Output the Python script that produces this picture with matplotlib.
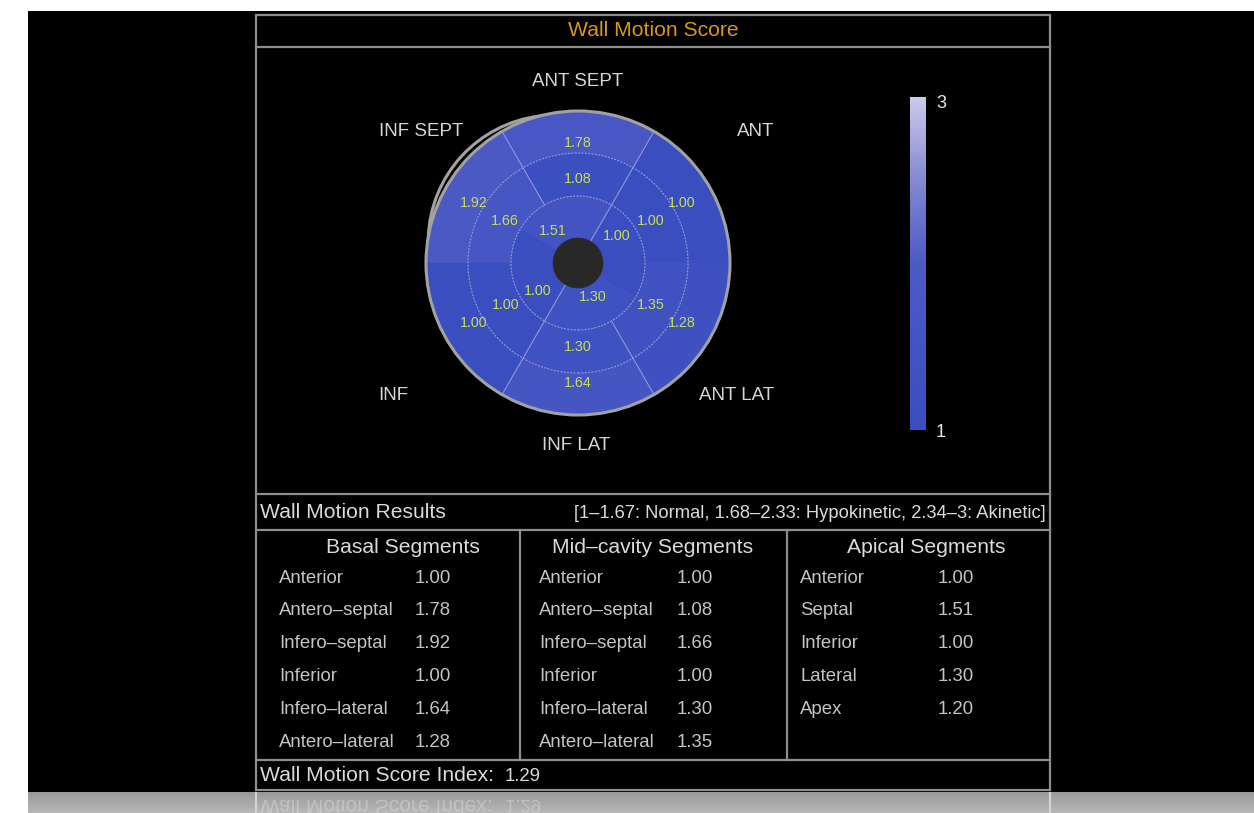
import numpy as np
import matplotlib
matplotlib.use("Agg")
import matplotlib.pyplot as plt
from matplotlib.patches import Wedge, Circle, Arc, Rectangle, PathPatch
from matplotlib.colors import LinearSegmentedColormap, Normalize
from matplotlib.textpath import TextPath
from matplotlib.font_manager import FontProperties
from matplotlib.transforms import Affine2D
import matplotlib.colorbar as mcolorbar

plt.rcParams['font.family'] = ['Liberation Sans', 'DejaVu Sans']

# ---------------- data ----------------
title = "Wall Motion Score"
direction_labels = ["ANT", "ANT SEPT", "INF SEPT", "INF", "INF LAT", "ANT LAT"]
basal_names = ["Anterior", "Antero\u2013septal", "Infero\u2013septal", "Inferior",
               "Infero\u2013lateral", "Antero\u2013lateral"]
basal_values = [1.00, 1.78, 1.92, 1.00, 1.64, 1.28]
mid_names = ["Anterior", "Antero\u2013septal", "Infero\u2013septal", "Inferior",
             "Infero\u2013lateral", "Antero\u2013lateral"]
mid_values = [1.00, 1.08, 1.66, 1.00, 1.30, 1.35]
apical_names = ["Anterior", "Septal", "Inferior", "Lateral", "Apex"]
apical_values = [1.00, 1.51, 1.00, 1.30, 1.20]
score_min, score_max = 1, 3
score_index = 1.29
results_title = "Wall Motion Results"
results_legend = "[1\u20131.67: Normal, 1.68\u20132.33: Hypokinetic, 2.34\u20133: Akinetic]"
column_headers = ["Basal Segments", "Mid\u2013cavity Segments", "Apical Segments"]

# ---------------- figure ----------------
W, H = 1254, 813
fig = plt.figure(figsize=(W / 100, H / 100), dpi=100)
fig.patch.set_facecolor("white")
ax = fig.add_axes([0, 0, 1, 1])
ax.set_xlim(0, W)
ax.set_ylim(H, 0)
ax.axis("off")

# black panel
ax.add_patch(Rectangle((28, 11), W - 28, 781, facecolor="black", edgecolor="none", zorder=0))
# reflection gradient band
grad = np.linspace(0.60, 0.72, 30)[:, None] * np.ones((1, 10))
ax.imshow(grad, extent=(28, W, 813, 792), cmap="gray", vmin=0, vmax=1,
          aspect="auto", origin="upper", zorder=0.5, interpolation="bilinear")
ax.set_xlim(0, W)
ax.set_ylim(H, 0)

frame_c = "#8e8e8e"
lw = 1.6
# frame
ax.add_patch(Rectangle((256, 15), 794, 775, facecolor="none", edgecolor=frame_c, lw=lw, zorder=2))
for yy in [47, 494, 530, 760]:
    ax.plot([256, 1050], [yy, yy], color=frame_c, lw=lw, zorder=2)
for xx in [520, 787]:
    ax.plot([xx, xx], [530, 760], color=frame_c, lw=lw, zorder=2)
# reflected frame edges
for xx in [256, 1050]:
    ax.plot([xx, xx], [793, 813], color="#d4d4d4", lw=lw, zorder=2)

# title
ax.text(653, 31, title, color="#d8961a", fontsize=15.2, ha="center", va="center")

# ---------------- bullseye ----------------
cmap = LinearSegmentedColormap.from_list(
    "wm", [(0.0, "#3a4ec0"), (0.5, "#4c5ac4"), (0.75, "#8488d2"), (1.0, "#cacaea")])
norm = Normalize(score_min, score_max)

cx, cy, half = 578, 263, 200
bax = fig.add_axes([(cx - half) / W, (H - (cy + half)) / H, 2 * half / W, 2 * half / H])
bax.set_xlim(-half, half)
bax.set_ylim(-half, half)
bax.axis("off")

r_center, r_apical, r_mid, r_basal = 25, 67, 110, 152

def ring(values, r_in, r_out, start, step):
    for i, v in enumerate(values):
        c = cmap(norm(v))
        t1 = start + step * i - step / 2
        bax.add_patch(Wedge((0, 0), r_out, t1, t1 + step, width=r_out - r_in,
                            facecolor=c, edgecolor=c, lw=0.4, zorder=1))

ring(basal_values, r_mid, r_basal, 30, 60)
ring(mid_values, r_apical, r_mid, 30, 60)
ring(apical_values[:4], r_center, r_apical, 15, 90)

line_c = "#8f98da"
for r in [r_apical, r_mid]:
    bax.add_patch(Circle((0, 0), r, facecolor="none", edgecolor=line_c, lw=0.8,
                         ls=(0, (2, 1)), zorder=2))
for ang, r0 in [(60, r_center), (120, r_apical), (240, r_center), (300, r_apical)]:
    a = np.deg2rad(ang)
    bax.plot([r0 * np.cos(a), r_basal * np.cos(a)], [r0 * np.sin(a), r_basal * np.sin(a)],
             color=line_c, lw=0.8, zorder=2)

bax.add_patch(Circle((0, 0), r_center, facecolor="#282828", edgecolor="#303030", lw=0.5, zorder=3))
bax.add_patch(Circle((0, 0), r_basal, facecolor="none", edgecolor="#a2a2a2", lw=2.2, zorder=3))
# second, slightly displaced outline at the upper-left
bax.add_patch(Arc((-23.0, 21.1), 2 * 126.8, 2 * 126.8, theta1=97, theta2=178,
                  edgecolor="#a2a2a2", lw=2.2, zorder=3))

val_c = "#c8de52"
vfs = 10.3
for i, v in enumerate(basal_values):
    a = np.deg2rad(30 + 60 * i)
    bax.text(120 * np.cos(a), 120 * np.sin(a), f"{v:.2f}", color=val_c, fontsize=vfs,
             ha="center", va="center", zorder=4)
for i, v in enumerate(mid_values):
    a = np.deg2rad(30 + 60 * i)
    bax.text(84 * np.cos(a), 84 * np.sin(a), f"{v:.2f}", color=val_c, fontsize=vfs,
             ha="center", va="center", zorder=4)
apical_label_pos = [(35, 47), (128, 41), (215, 49), (294, 37)]
for (ang, r), v in zip(apical_label_pos, apical_values[:4]):
    a = np.deg2rad(ang)
    bax.text(r * np.cos(a), r * np.sin(a), f"{v:.2f}", color=val_c, fontsize=vfs,
             ha="center", va="center", zorder=4)

dir_pos = [(178, 132), (0, 182), (-157, 132), (-185, -132), (-2, -182), (159, -132)]
for (dx, dy), lab in zip(dir_pos, direction_labels):
    bax.text(dx, dy, lab, color="#d6d6d6", fontsize=13.5, ha="center", va="center")

# ---------------- colour bar ----------------
cax = fig.add_axes([910 / W, (H - 430) / H, 16 / W, 333 / H])
cb = mcolorbar.ColorbarBase(cax, cmap=cmap, norm=norm, orientation="vertical")
cb.outline.set_visible(False)
cb.set_ticks([])
ax.text(936, 103, f"{score_max}", color="#e6e6e6", fontsize=13, ha="left", va="center")
ax.text(936, 432, f"{score_min}", color="#e6e6e6", fontsize=13, ha="left", va="center")

# ---------------- results table ----------------
hdr_c = "#dadada"
row_c = "#c4c4c4"
hfs = 15.2
rfs = 13.4
ax.text(260, 512, results_title, color=hdr_c, fontsize=hfs, ha="left", va="center")
ax.text(1046, 513, results_legend, color=hdr_c, fontsize=13.2, ha="right", va="center")

for xc, h in zip([403, 653, 926], column_headers):
    ax.text(xc, 547, h, color=hdr_c, fontsize=hfs, ha="center", va="center")

row_y = [578, 610, 643, 676, 709, 742]
for y, n, v in zip(row_y, basal_names, basal_values):
    ax.text(279, y, n, color=row_c, fontsize=rfs, ha="left", va="center")
    ax.text(415, y, f"{v:.2f}", color=row_c, fontsize=rfs, ha="left", va="center")
for y, n, v in zip(row_y, mid_names, mid_values):
    ax.text(539, y, n, color=row_c, fontsize=rfs, ha="left", va="center")
    ax.text(677, y, f"{v:.2f}", color=row_c, fontsize=rfs, ha="left", va="center")
for y, n, v in zip(row_y, apical_names, apical_values):
    ax.text(800, y, n, color=row_c, fontsize=rfs, ha="left", va="center")
    ax.text(938, y, f"{v:.2f}", color=row_c, fontsize=rfs, ha="left", va="center")

idx_label = "Wall Motion Score Index:"
ax.text(260, 775, idx_label, color=hdr_c, fontsize=hfs, ha="left", va="center")
ax.text(505, 776, f"{score_index:.2f}", color=hdr_c, fontsize=rfs, ha="left", va="center")

# reflection of the index row (mirrored text)
fp = FontProperties(family="Liberation Sans")
tp = TextPath((0, 0), idx_label, size=21, prop=fp)
ax.add_patch(PathPatch(Affine2D().translate(260, 800).transform_path(tp),
                       facecolor="#d8d8d8", edgecolor="none", alpha=0.5, zorder=3))
tp2 = TextPath((0, 0), f"{score_index:.2f}", size=18.5, prop=fp)
ax.add_patch(PathPatch(Affine2D().translate(505, 800).transform_path(tp2),
                       facecolor="#d8d8d8", edgecolor="none", alpha=0.5, zorder=3))

fig.savefig("out.png", dpi=100, facecolor=fig.get_facecolor())
